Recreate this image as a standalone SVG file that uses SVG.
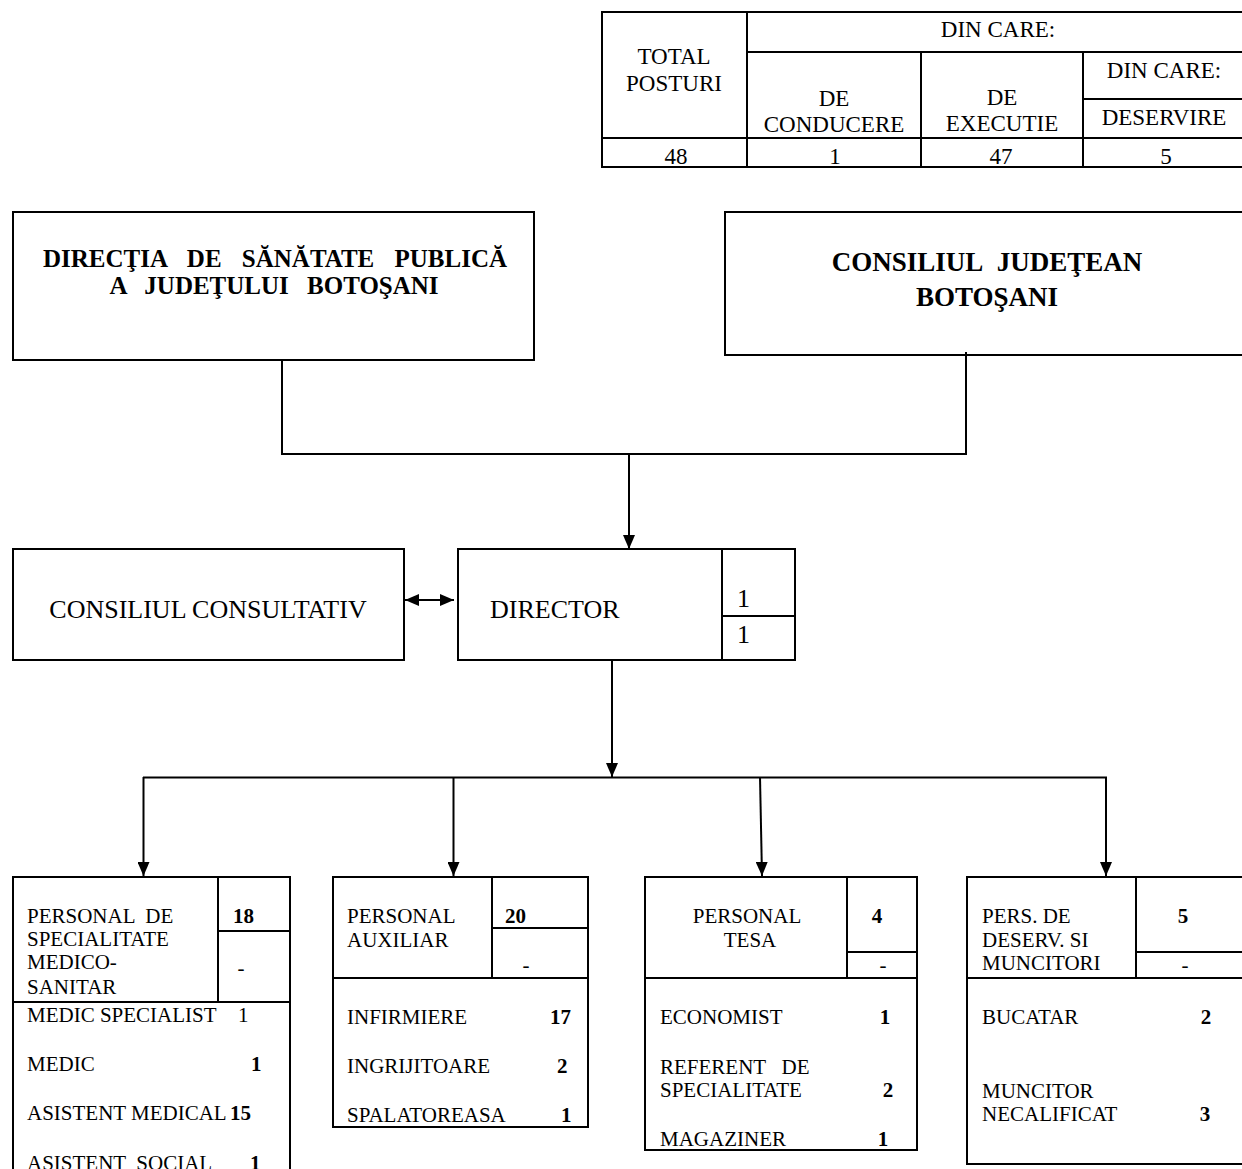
<svg xmlns="http://www.w3.org/2000/svg" width="1242" height="1169" viewBox="0 0 1242 1169">
<defs>
<marker id="arr" markerUnits="userSpaceOnUse" markerWidth="14" markerHeight="12" refX="14" refY="6" orient="auto-start-reverse">
<path d="M0,0 L14,6 L0,12 z" fill="#000"/>
</marker>
</defs>
<style>
.b{fill:#fff;stroke:#000;stroke-width:2}
.l{fill:none;stroke:#000;stroke-width:2}
.c{fill:none;stroke:#000;stroke-width:2}
.t{font-family:"Liberation Serif","Times New Roman",serif;fill:#000;white-space:pre}
.s21{font-size:21px}
.s23{font-size:23px}
.s25{font-size:25px}
.s26{font-size:26px}
.s27{font-size:27px}
.bo{font-weight:bold}
.m{text-anchor:middle}
</style>
<rect x="0" y="0" width="1242" height="1169" fill="#fff"/>

<g id="table">
<rect class="b" x="602" y="12" width="645" height="155"/>
<path class="l" d="M747,12 V167 M747,52 H1247 M921,52 V167 M1083,52 V167 M1083,99 H1247 M602,138 H1247"/>
<text class="t s23 m" x="998" y="37">DIN CARE:</text>
<text class="t s23 m" x="674" y="64">TOTAL</text>
<text class="t s23 m" x="674" y="91">POSTURI</text>
<text class="t s23 m" x="834" y="106">DE</text>
<text class="t s23 m" x="834" y="132">CONDUCERE</text>
<text class="t s23 m" x="1002" y="105">DE</text>
<text class="t s23 m" x="1002" y="131">EXECUTIE</text>
<text class="t s23 m" x="1164" y="78">DIN CARE:</text>
<text class="t s23 m" x="1164" y="125">DESERVIRE</text>
<text class="t s23 m" x="676" y="164">48</text>
<text class="t s23 m" x="835" y="164">1</text>
<text class="t s23 m" x="1001" y="164">47</text>
<text class="t s23 m" x="1166" y="164">5</text>
</g>

<g id="dsp">
<rect class="b" x="13" y="212" width="521" height="148"/>
<text class="t s25 bo m" x="275" y="267" style="word-spacing:14px">DIRECŢIA DE SĂNĂTATE PUBLICĂ</text>
<text class="t s25 bo m" x="274" y="294" style="word-spacing:12px">A JUDEŢULUI BOTOŞANI</text>
</g>

<g id="cj">
<rect class="b" x="725" y="212" width="522" height="143"/>
<text class="t s27 bo m" x="987" y="271" style="word-spacing:8px">CONSILIUL JUDEŢEAN</text>
<text class="t s27 bo m" x="987" y="306">BOTOŞANI</text>
</g>

<g id="consiliul-consultativ">
<rect class="b" x="13" y="549" width="391" height="111"/>
<text class="t s26 m" x="208" y="618">CONSILIUL CONSULTATIV</text>
</g>

<g id="director">
<rect class="b" x="458" y="549" width="337" height="111"/>
<path class="l" d="M722,549 V660 M722,616 H795"/>
<text class="t s26" x="490" y="618">DIRECTOR</text>
<text class="t s26" x="737" y="607">1</text>
<text class="t s26" x="737" y="643">1</text>
</g>

<g id="connectors">
<path class="c" d="M282,361 V454 H966 V352"/>
<line class="c" x1="629" y1="454" x2="629" y2="549" marker-end="url(#arr)"/>
<line class="c" x1="405" y1="600" x2="454" y2="600" marker-start="url(#arr)" marker-end="url(#arr)"/>
<line class="c" x1="612" y1="659" x2="612" y2="777" marker-end="url(#arr)"/>
<line class="c" x1="143" y1="777.5" x2="1107" y2="777.5"/>
<line class="c" x1="143.5" y1="777" x2="143.5" y2="876" marker-end="url(#arr)"/>
<line class="c" x1="453.5" y1="777" x2="453.5" y2="876" marker-end="url(#arr)"/>
<line class="c" x1="760" y1="777" x2="762" y2="876" marker-end="url(#arr)"/>
<line class="c" x1="1106" y1="777" x2="1106" y2="876" marker-end="url(#arr)"/>
</g>

<g id="personal-specialitate">
<rect class="b" x="13" y="877" width="277" height="310"/>
<path class="l" d="M218,877 V1002 M218,931 H290 M13,1002 H290"/>
<text class="t s21" x="27" y="923">PERSONAL  DE</text>
<text class="t s21" x="27" y="946">SPECIALITATE</text>
<text class="t s21" x="27" y="969">MEDICO-</text>
<text class="t s21" x="27" y="994">SANITAR</text>
<text class="t s21 bo" x="233" y="923">18</text>
<text class="t s21 m" x="241" y="975">-</text>
<text class="t s21" x="27" y="1022">MEDIC SPECIALIST</text>
<text class="t s21" x="238" y="1022">1</text>
<text class="t s21" x="27" y="1071">MEDIC</text>
<text class="t s21 bo" x="251" y="1071">1</text>
<text class="t s21" x="27" y="1120">ASISTENT MEDICAL</text>
<text class="t s21 bo" x="230" y="1120">15</text>
<text class="t s21" x="27" y="1170">ASISTENT  SOCIAL</text>
<text class="t s21 bo" x="250" y="1170">1</text>
</g>

<g id="personal-auxiliar">
<rect class="b" x="333" y="877" width="255" height="250"/>
<path class="l" d="M492,877 V978 M492,928 H588 M333,978 H588"/>
<text class="t s21" x="347" y="923">PERSONAL</text>
<text class="t s21" x="347" y="947">AUXILIAR</text>
<text class="t s21 bo" x="505" y="923">20</text>
<text class="t s21 m" x="526" y="972">-</text>
<text class="t s21" x="347" y="1024">INFIRMIERE</text>
<text class="t s21 bo" x="550" y="1024">17</text>
<text class="t s21" x="347" y="1073">INGRIJITOARE</text>
<text class="t s21 bo" x="557" y="1073">2</text>
<text class="t s21" x="347" y="1122">SPALATOREASA</text>
<text class="t s21 bo" x="561" y="1122">1</text>
</g>

<g id="personal-tesa">
<rect class="b" x="645" y="877" width="272" height="273"/>
<path class="l" d="M847,877 V978 M847,952 H917 M645,978 H917"/>
<text class="t s21 m" x="747" y="923">PERSONAL</text>
<text class="t s21 m" x="750" y="947">TESA</text>
<text class="t s21 bo m" x="877" y="923">4</text>
<text class="t s21 m" x="883" y="972">-</text>
<text class="t s21" x="660" y="1024">ECONOMIST</text>
<text class="t s21 bo m" x="885" y="1024">1</text>
<text class="t s21" x="660" y="1074">REFERENT   DE</text>
<text class="t s21" x="660" y="1097">SPECIALITATE</text>
<text class="t s21 bo m" x="888" y="1097">2</text>
<text class="t s21" x="660" y="1146">MAGAZINER</text>
<text class="t s21 bo m" x="883" y="1146">1</text>
</g>

<g id="personal-deservire">
<rect class="b" x="967" y="877" width="280" height="287"/>
<path class="l" d="M1136,877 V978 M1136,952 H1247 M967,978 H1247"/>
<text class="t s21" x="982" y="923">PERS. DE</text>
<text class="t s21" x="982" y="947">DESERV. SI</text>
<text class="t s21" x="982" y="970">MUNCITORI</text>
<text class="t s21 bo m" x="1183" y="923">5</text>
<text class="t s21 m" x="1185" y="972">-</text>
<text class="t s21" x="982" y="1024">BUCATAR</text>
<text class="t s21 bo m" x="1206" y="1024">2</text>
<text class="t s21" x="982" y="1098">MUNCITOR</text>
<text class="t s21" x="982" y="1121">NECALIFICAT</text>
<text class="t s21 bo m" x="1205" y="1121">3</text>
</g>
</svg>
